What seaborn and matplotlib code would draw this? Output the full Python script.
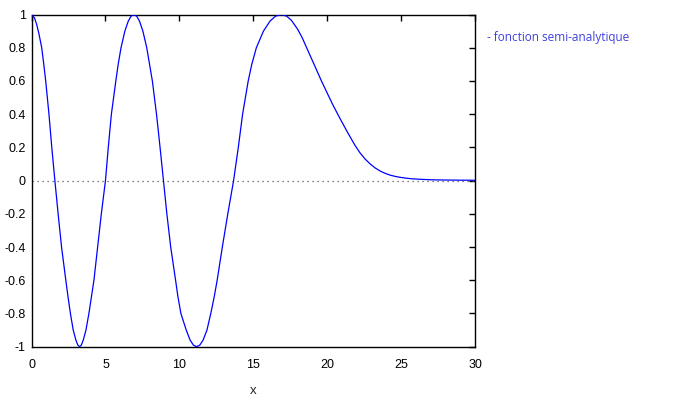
import matplotlib
matplotlib.use("Agg")
import matplotlib.pyplot as plt
import seaborn as sns
import pandas as pd

# values
x_values = [0.0, 0.2, 0.35, 0.5, 0.69, 0.83, 0.96, 1.18, 1.37, 1.58,
            1.8, 2.03, 2.32, 2.47, 2.63, 2.82, 3.0, 3.13, 3.25,
            3.37, 3.5, 3.68, 3.88, 4.05, 4.22, 4.47, 4.72, 5.0,
            5.19, 5.4, 5.7, 5.86, 6.05, 6.31, 6.54, 6.73, 6.92,
            7.11, 7.3, 7.53, 7.79, 7.98, 8.17, 8.45, 8.69, 8.92,
            9.15, 9.41, 9.74, 9.9, 10.1, 10.46, 10.72, 10.94, 11.16,
            11.38, 11.6, 11.86, 12.12, 12.35, 12.55, 12.9, 13.27, 13.66,
            13.98, 14.27, 14.65, 14.89, 15.2, 15.68, 16.12, 16.5, 16.88,
            17.25, 17.57, 18.0, 18.3, 18.6, 19.0, 19.3, 19.6,
            20.0, 20.35, 20.7, 21.0, 21.4, 21.85, 22.2, 22.55,
            22.9, 23.22, 23.56, 23.9, 24.24, 24.6, 24.9, 25.3,
            25.7, 26.26, 27.0, 27.6, 28.5, 30.0]
y_values = [1.0, 0.98, 0.94, 0.885, 0.8, 0.7, 0.6, 0.4, 0.2, 0.0,
            -0.2, -0.4, -0.6, -0.7, -0.8, -0.9, -0.96, -0.99, -1.0,
            -0.99, -0.96, -0.9, -0.8, -0.7, -0.6, -0.4, -0.2, 0.0,
            0.2, 0.4, 0.6, 0.7, 0.8, 0.9, 0.96, 0.99, 1.0,
            0.99, 0.96, 0.9, 0.8, 0.7, 0.6, 0.4, 0.2, 0.0,
            -0.2, -0.4, -0.6, -0.7, -0.8, -0.9, -0.96, -0.99, -1.0,
            -0.99, -0.96, -0.9, -0.8, -0.7, -0.6, -0.4, -0.2, 0.0,
            0.2, 0.4, 0.6, 0.7, 0.8, 0.9, 0.96, 0.99, 1.0,
            0.99, 0.965, 0.91, 0.86, 0.8, 0.72, 0.66, 0.6,
            0.525, 0.46, 0.4, 0.35, 0.285, 0.215, 0.168, 0.13,
            0.1, 0.077, 0.058, 0.044, 0.033, 0.025, 0.02, 0.015,
            0.011, 0.008, 0.005, 0.004, 0.003, 0.002]

x_ticks = [0, 5, 10, 15, 20, 25, 30]
x_tick_labels = ["0", "5", "10", "15", "20", "25", "30"]
y_ticks = [1, 0.8, 0.6, 0.4, 0.2, 0, -0.2, -0.4, -0.6, -0.8, -1]
y_tick_labels = ["1", "0.8", "0.6", "0.4", "0.2", "0", "-0.2", "-0.4", "-0.6", "-0.8", "-1"]
series_label = "- fonction semi-analytique"
x_label = "x"

df = pd.DataFrame({"x": x_values, "y": y_values})

sns.set_style("white")
plt.rcParams["font.family"] = ["Liberation Sans", "DejaVu Sans"]

fig = plt.figure(figsize=(6.82, 4.03), dpi=100)
ax = fig.add_axes([0.0462, 0.1397, 0.6507, 0.8243])

ax.axhline(0, color="#555555", lw=0.9, linestyle=(0, (1, 3)), zorder=1)
sns.lineplot(data=df, x="x", y="y", ax=ax, color="#0000ff", lw=0.9,
             sort=False, estimator=None, zorder=3)

ax.set_xlim(0, 30)
ax.set_ylim(-1, 1)
ax.set_xticks(x_ticks)
ax.set_xticklabels(x_tick_labels)
ax.set_yticks(y_ticks)
ax.set_yticklabels(y_tick_labels)
ax.tick_params(direction="in", length=4, width=1, top=True, right=True,
               labelsize=9, colors="black")
ax.tick_params(axis="x", pad=9)
ax.tick_params(axis="y", pad=4)
for s in ax.spines.values():
    s.set_color("black")
    s.set_linewidth(1.0)
    s.set_visible(True)
ax.set_xlabel(x_label, fontsize=9.5, labelpad=10)
ax.set_ylabel("")

fig.text(487 / 682, 1 - 38 / 403, series_label, color="#4040dd",
         fontsize=8.5, va="center", ha="left", family=["Open Sans", "DejaVu Sans"])

fig.savefig("out.png", dpi=100)
